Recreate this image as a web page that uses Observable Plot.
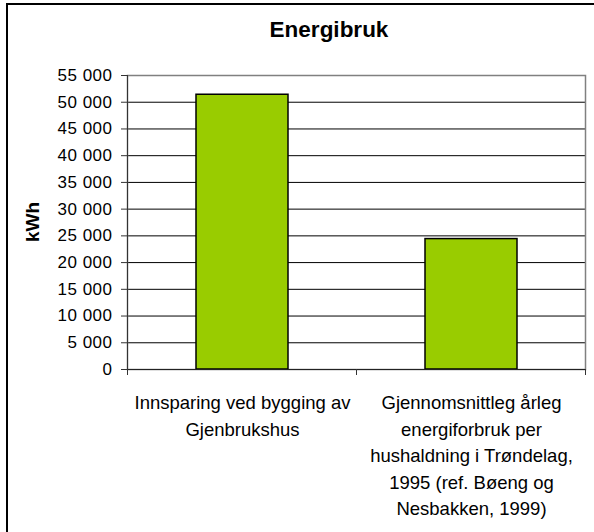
<!DOCTYPE html>
<html>
<head>
<meta charset="utf-8">
<script src="https://cdn.jsdelivr.net/npm/d3@7"></script>
<script src="https://cdn.jsdelivr.net/npm/@observablehq/plot@0.6"></script>
<style>
  html, body { margin: 0; padding: 0; background: #fff; }
  #wrap { position: relative; width: 594px; height: 532px; overflow: hidden; background: #fff;
          font-family: "Liberation Sans", Arial, sans-serif; }
  #chart { position: absolute; left: 0; top: 0; }
  #border { position: absolute; left: 6px; top: 3px; width: 620px; height: 560px;
            border: 2px solid #000; pointer-events: none; }
  #title { position: absolute; left: 229px; width: 200px; top: 19px; text-align: center;
           font-weight: bold; font-size: 22.5px; line-height: 22px; color: #000; }
  #ylabel { position: absolute; left: 32px; top: 222px; transform: translate(-50%, -50%) rotate(-90deg);
            font-weight: bold; font-size: 19px; line-height: 19px; white-space: nowrap; color: #000; }
  .ytick text { letter-spacing: 0.5px; }
</style>
</head>
<body>
<div id="wrap">
  <div id="chart"></div>
  <div id="title">Energibruk</div>
  <div id="ylabel">kWh</div>
  <div id="border"></div>
</div>
<script>
// Data
const categories = [
  "Innsparing ved bygging av Gjenbrukshus",
  "Gjennomsnittleg årleg energiforbruk per hushaldning i Trøndelag, 1995 (ref. Bøeng og Nesbakken, 1999)"
];
const categoryLabels = [
  "Innsparing ved bygging av\nGjenbrukshus",
  "Gjennomsnittleg årleg\nenergiforbruk per\nhushaldning i Trøndelag,\n1995 (ref. Bøeng og\nNesbakken, 1999)"
];
const values = [51400, 24400];
const yTicks = [0, 5000, 10000, 15000, 20000, 25000, 30000, 35000, 40000, 45000, 50000, 55000];

const data = categories.map((c, i) => ({category: c, value: values[i]}));
const fmt = d => d3.format(",")(d).replace(/,/g, " ");

// band-edge tick marks along the category axis
function bandEdgeTicks(index, scales, values_, dimensions) {
  const {width, marginLeft, marginRight} = dimensions;
  const left = marginLeft, right = width - marginRight;
  const n = categories.length;
  const y0 = scales.y(0);
  const g = d3.create("svg:g");
  for (let i = 0; i <= n; i++) {
    const xx = Math.round(left + i * (right - left) / n) + 0.5;
    g.append("line")
      .attr("x1", xx).attr("x2", xx)
      .attr("y1", y0).attr("y2", y0 + 6)
      .attr("stroke", "#333");
  }
  return g.node();
}

const chart = Plot.plot({
  width: 594,
  height: 532,
  marginLeft: 127,
  marginRight: 9,
  marginTop: 75,
  marginBottom: 163,
  style: {fontFamily: "'Liberation Sans', Arial, sans-serif", background: "transparent", color: "#000"},
  x: {domain: categories, paddingInner: 0.6, paddingOuter: 0.3, axis: null, label: null},
  y: {domain: [0, 55000], axis: null, label: null},
  marks: [
    Plot.ruleY(yTicks.filter(t => t > 0 && t < 55000), {stroke: "#000", strokeWidth: 1}),
    Plot.frame({stroke: "#808080", strokeWidth: 1.5}),
    Plot.barY(data, {x: "category", y: "value", fill: "#99CC00", stroke: "#000", strokeWidth: 1.5}),
    Plot.frame({anchor: "left", stroke: "#333"}),
    Plot.ruleY([0], {stroke: "#222"}),
    Plot.axisY({
      ticks: yTicks, tickSize: 6, tickPadding: 9, tickFormat: fmt,
      fontSize: 17, stroke: "#333", fill: "#000", label: null, className: "ytick"
    }),
    Plot.axisX({
      tickSize: 0, tickPadding: 21, fontSize: 18.5, lineHeight: 1.43,
      tickFormat: d => categoryLabels[categories.indexOf(d)], label: null, fill: "#000",
      lineWidth: Infinity
    }),
    bandEdgeTicks
  ]
});
document.getElementById("chart").appendChild(chart);
</script>
</body>
</html>
